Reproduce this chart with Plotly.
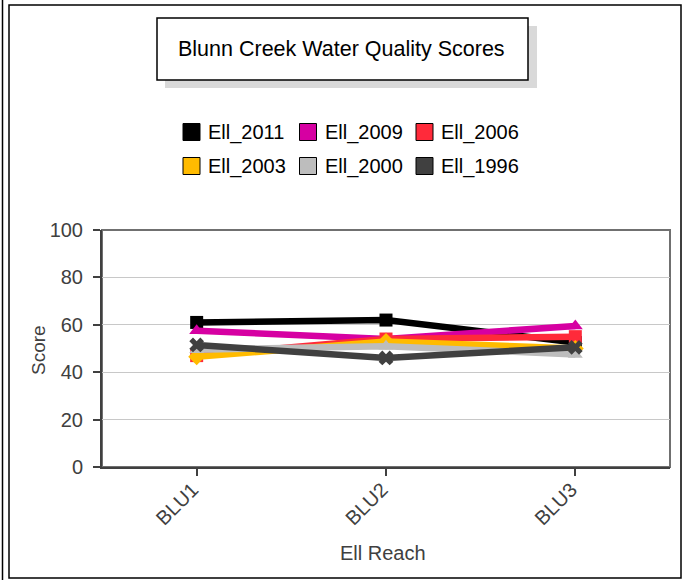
import plotly.graph_objects as go

reaches = ["BLU1", "BLU2", "BLU3"]
series_names = ["Ell_2011", "Ell_2009", "Ell_2006", "Ell_2003", "Ell_2000", "Ell_1996"]
ell_2011 = [61, 62, 52.5]
ell_2009 = [57.5, 54, 59.5]
ell_2006 = [47, 54, 55]
ell_2003 = [46.5, 53, 50]
ell_2000 = [49.5, 51, 47.5]
ell_1996 = [51.5, 46, 50.5]
y_ticks = [0, 20, 40, 60, 80, 100]

series_values = [ell_2011, ell_2009, ell_2006, ell_2003, ell_2000, ell_1996]
colors = ["#000000", "#d600a2", "#ff2a3a", "#ffbb00", "#bdbdbd", "#404040"]
symbols = ["square", "triangle-up", "square", "diamond", "triangle-up", "x"]

W, H = 683, 580
L, R, T, B = 102, 670, 230, 467  # plot area pixels


def px(x):
    return (x - L) / (R - L)


def py(y):
    return (B - y) / (B - T)


fig = go.Figure()
for name, vals, c, s in zip(series_names, series_values, colors, symbols):
    fig.add_trace(go.Scatter(
        x=reaches, y=vals, name=name, mode="lines+markers",
        line=dict(color=c, width=6.5),
        marker=dict(symbol=s, size=13, color=c, line=dict(width=0)),
        showlegend=False,
    ))

shapes = []
annotations = []
# outer frame
shapes.append(dict(type="line", xref="paper", yref="paper", x0=px(2.5), x1=px(2.5),
                   y0=py(0), y1=py(580), line=dict(color="#000", width=1.5)))
shapes.append(dict(type="rect", xref="paper", yref="paper", x0=px(9), x1=px(681),
                   y0=py(5), y1=py(578), line=dict(color="#000", width=1.5), layer="below"))
# title shadow + box
shapes.append(dict(type="rect", xref="paper", yref="paper", x0=px(165), x1=px(537),
                   y0=py(26), y1=py(88), fillcolor="#d9d9d9", line=dict(width=0)))
shapes.append(dict(type="rect", xref="paper", yref="paper", x0=px(157), x1=px(528),
                   y0=py(18), y1=py(80), fillcolor="#ffffff", line=dict(color="#000", width=1.5)))
annotations.append(dict(text="Blunn Creek Water Quality Scores", xref="paper", yref="paper",
                        x=px(341), y=py(49), showarrow=False, xanchor="center", yanchor="middle",
                        font=dict(size=21.5, color="#000")))
# plot frame (top/right)
shapes.append(dict(type="rect", xref="paper", yref="paper", x0=0, x1=1, y0=0, y1=1,
                   line=dict(color="#707070", width=2), layer="below"))
# manual legend
for i, (name, c) in enumerate(zip(series_names, colors)):
    row, col = divmod(i, 3)
    sx = 183 + col * 116.5
    sy = 132 + row * 34
    shapes.append(dict(type="rect", xref="paper", yref="paper", x0=px(sx), x1=px(sx + 17),
                       y0=py(sy - 8.5), y1=py(sy + 8.5), fillcolor=c,
                       line=dict(color="#000", width=1)))
    annotations.append(dict(text=name, xref="paper", yref="paper", x=px(sx + 23), y=py(sy + 1),
                            showarrow=False, xanchor="left", yanchor="middle",
                            font=dict(size=20, color="#000")))
# axis titles
annotations.append(dict(text="Score", xref="paper", yref="paper", x=px(38), y=py(350),
                        showarrow=False, textangle=-90, xanchor="center", yanchor="middle",
                        font=dict(size=19, color="#404040")))
annotations.append(dict(text="Ell Reach", xref="paper", yref="paper", x=px(383), y=py(553),
                        showarrow=False, xanchor="center", yanchor="middle",
                        font=dict(size=20, color="#404040")))

fig.update_layout(
    width=W, height=H, autosize=False,
    margin=dict(l=L, r=W - R, t=T, b=H - B, pad=0),
    paper_bgcolor="#ffffff", plot_bgcolor="#ffffff",
    font=dict(family="Liberation Sans, Arial, sans-serif", color="#333"),
    shapes=shapes, annotations=annotations,
    xaxis=dict(type="category", range=[-0.5, 2.5], showgrid=False, showline=True,
               linecolor="#404040", linewidth=2, ticks="outside", ticklen=7,
               tickcolor="#404040", tickwidth=2, tickangle=-45,
               ticklabelstandoff=-6, ticklabelshift=-4,
               tickfont=dict(size=20, color="#404040"), zeroline=False),
    yaxis=dict(range=[0, 100], tickvals=y_ticks, showgrid=True, gridcolor="#c8c8c8",
               gridwidth=1, showline=True, linecolor="#404040", linewidth=2,
               ticks="outside", ticklen=7, tickcolor="#404040", tickwidth=2,
               ticklabelstandoff=6,
               tickfont=dict(size=20, color="#404040"), zeroline=False),
)

fig.write_html("out.html", post_script="document.body.style.margin='0';",
               config={"displayModeBar": False})
